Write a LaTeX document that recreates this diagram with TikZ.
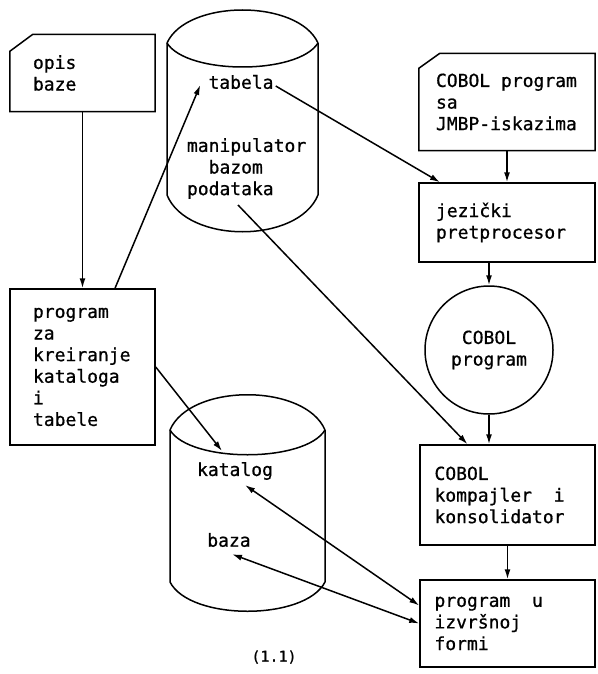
\documentclass[tikz,border=0pt]{standalone}
\usepackage{fontspec}
\usetikzlibrary{arrows.meta,calc}
\newfontfamily\diagmono{DejaVu Sans Mono}[FakeBold=0.8]
\newcommand\diagfont{\diagmono\fontsize{18}{21.6}\selectfont}
\newcommand\capfont{\diagmono\fontsize{15}{17}\selectfont}
\newcommand\msp{\hspace*{0.602em}}
\tikzset{
  ln/.style={line width=1.5pt},
  arr/.style={ln,-{Latex[length=10pt,width=6pt]}},
  darr/.style={ln,{Latex[length=10pt,width=6pt]}-{Latex[length=10pt,width=6pt]}},
  boxnode/.style={draw,ln,inner sep=0pt,align=left,font=\diagfont},
  docnode/.style={inner sep=0pt,align=left,font=\diagfont},
  lbl/.style={inner sep=2pt,align=left,font=\diagfont},
}
\begin{document}
\begin{tikzpicture}[x=1pt,y=-1pt]
\useasboundingbox (0,0) rectangle (597,674);

% document-shaped boxes
\node[docnode,minimum width=145pt,minimum height=77pt,text width=99pt] (opis) at (82.5,73) {opis\\baze};
\draw[ln] ([yshift=-17pt]opis.north west) -- ([xshift=23pt]opis.north west) -- (opis.north east) -- (opis.south east) -- (opis.south west) -- cycle;

\node[docnode,minimum width=176pt,minimum height=97pt,text width=142pt] (cobsrc) at (507,102) {COBOL\msp program\\sa\\JMBP-iskazima};
\draw[ln] ([yshift=-15pt]cobsrc.north west) -- ([xshift=21pt]cobsrc.north west) -- (cobsrc.north east) -- (cobsrc.south east) -- (cobsrc.south west) -- cycle;

% plain boxes
\node[boxnode,minimum width=145pt,minimum height=156pt,text width=99pt] (prog) at (82.5,367) {program\\za\\kreiranje\\kataloga\\i\\tabele};
\node[boxnode,minimum width=176pt,minimum height=79pt,text width=142pt] (jez) at (507,222.5) {jezički\\pretprocesor};
\node[boxnode,circle,minimum size=128pt,align=center] (circ) at (489,350) {COBOL\\program};
\node[boxnode,minimum width=175pt,minimum height=100pt,text width=146pt] (komp) at (507.5,495) {COBOL\\kompajler\msp\msp i\\konsolidator};
\node[boxnode,minimum width=175pt,minimum height=87pt,text width=146pt] (izv) at (507.5,623.5) {program\msp\msp u\\izvršnoj\\formi};

% top cylinder
\draw[ln] (167,43) .. controls (187,-1) and (298,-1) .. (318,43);
\draw[ln] (167,43) .. controls (187,75) and (298,75) .. (318,43);
\draw[ln] (167,43) -- (167,195) .. controls (187,244) and (298,244) .. (318,195) -- (318,43);

% bottom cylinder
\draw[ln] (170,430) .. controls (190,383) and (305,383) .. (325,430);
\draw[ln] (170,430) .. controls (190,463) and (305,463) .. (325,430);
\draw[ln] (170,430) -- (170,582) .. controls (190,621) and (305,621) .. (325,582) -- (325,430);

% labels in cylinders
\node[lbl] (tabela) at (241,82) {tabela};
\node[lbl,inner sep=0pt] (manip) at (246.6,168.5) {manipulator\\\msp\msp bazom\\podataka};
\coordinate (m1) at (238,205);
\node[lbl] (katalog) at (235,471) {katalog};
\node[lbl] (baza) at (229,540) {baza};

% caption
\node[inner sep=0pt,font=\capfont] (cap) at (274,657) {(1.1)};

% connectors
\draw[arr] (opis) -- (prog);
\draw[arr] ([xshift=32.5pt]prog.north) -- ([xshift=-6pt,yshift=-3pt]tabela.west);
\draw[arr] ([yshift=-4pt]tabela.east) -- ([xshift=-67pt]jez.north);
\draw[arr] (cobsrc) -- (jez);
\draw[arr] (circ.north |- jez.south) -- (circ.north);
\draw[arr] (circ.south) -- (circ.south |- komp.north);
\draw[arr] (m1) -- ([xshift=-40pt]komp.north);
\draw[arr] (komp) -- (izv);
\draw[arr] (prog.east) -- ([xshift=-13pt,yshift=9pt]katalog.north);
\draw[darr] ([xshift=10pt,yshift=-3pt]katalog.south) -- ([yshift=18pt]izv.west);
\draw[darr] ([xshift=3pt,yshift=-5pt]baza.south) -- (izv.west);
\end{tikzpicture}
\end{document}
